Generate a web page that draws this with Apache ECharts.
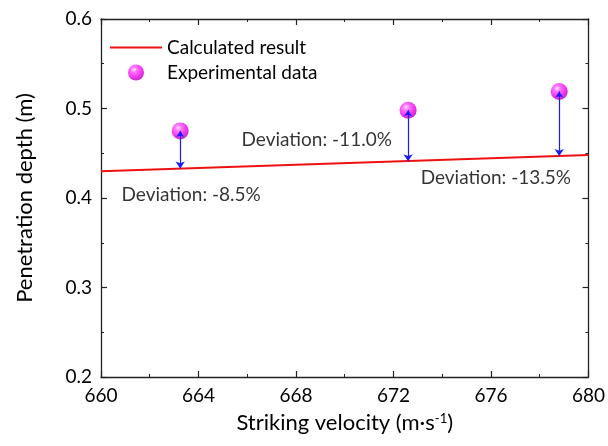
<!DOCTYPE html>
<html><head><meta charset="utf-8">
<script src="https://cdn.jsdelivr.net/npm/echarts@6/dist/echarts.min.js"></script>
<style>html,body{margin:0;padding:0;background:#fff}#c{width:608px;height:446px}</style>
</head><body><div id="c"></div>
<script>
// Calculated result line (x, y)
const calcX = [660, 680];
const calcY = [0.430, 0.448];
// Experimental data
const expX = [663.25, 672.6, 678.8];
const expY = [0.475, 0.498, 0.519];
// calculated value beneath each experimental point (arrow ends)
const calcAtExp = [0.433, 0.441, 0.447];
// deviation annotations
const devText = ['Deviation: -8.5%', 'Deviation: -11.0%', 'Deviation: -13.5%'];
const devX = [663.7, 668.85, 676.2];
const devY = [0.4034, 0.4648, 0.4223];
const xTicks = [660, 664, 668, 672, 676, 680];
const yTicks = [0.2, 0.3, 0.4, 0.5, 0.6];

const FONT = 'Lato';
const chart = echarts.init(document.getElementById('c'));
const axisCommon = {
  axisLine: {show: true, onZero: false, lineStyle: {color: '#222', width: 1.3}},
  axisTick: {show: true, inside: true, length: 6, lineStyle: {color: '#222', width: 1.2}},
  minorTick: {show: true, splitNumber: 2, length: 3, lineStyle: {color: '#222', width: 1}},
  splitLine: {show: false}
};
const ballColor = {
  type: 'radial', x: 0.38, y: 0.32, r: 0.7,
  colorStops: [{offset: 0, color: '#ffe6ff'}, {offset: 0.25, color: '#ff55ff'}, {offset: 0.7, color: '#ee00ee'}, {offset: 1, color: '#b000b0'}]
};
chart.setOption({
  animation: false,
  textStyle: {fontFamily: FONT},
  grid: {left: 101, right: 16, top: 19, bottom: 69},
  legend: {
    orient: 'vertical', left: 105, top: 33, itemWidth: 52, itemHeight: 16, itemGap: 6,
    textStyle: {fontFamily: FONT, fontSize: 19, color: '#000'},
    data: [
      {name: 'Calculated result', icon: 'path://M0,0h0.01v16h-0.01z M0,7h52v2h-52z', itemStyle: {color: '#ee1111'}},
      {name: 'Experimental data', icon: 'circle'}
    ]
  },
  xAxis: [
    Object.assign({type: 'value', min: 660, max: 680, interval: 4, position: 'bottom',
      name: '{a|Striking velocity (m·s}{s|-1}{a|)}', nameLocation: 'middle', nameGap: 35,
      nameTextStyle: {rich: {a: {fontFamily: FONT, fontSize: 22, color: '#000'}, s: {fontFamily: FONT, fontSize: 13, color: '#000', verticalAlign: 'top', padding: [0, 0, 9, 0]}}},
      axisLabel: {fontSize: 19, color: '#000', margin: 9, formatter: v => xTicks.includes(v) ? String(v) : ''}}, axisCommon),
    Object.assign({type: 'value', min: 660, max: 680, interval: 4, position: 'top', axisLabel: {show: false}}, axisCommon)
  ],
  yAxis: [
    Object.assign({type: 'value', min: 0.2, max: 0.6, interval: 0.1, position: 'left',
      name: 'Penetration depth (m)', nameLocation: 'middle', nameGap: 65,
      nameTextStyle: {fontFamily: FONT, fontSize: 22, color: '#000'},
      axisLabel: {fontSize: 19, color: '#000', margin: 9, formatter: v => v.toFixed(1)}}, axisCommon),
    Object.assign({type: 'value', min: 0.2, max: 0.6, interval: 0.1, position: 'right', axisLabel: {show: false}}, axisCommon)
  ],
  series: [
    {name: 'Calculated result', type: 'line', symbol: 'none', color: '#ee1111',
      lineStyle: {color: '#ee1111', width: 2}, data: calcX.map((x, i) => [x, calcY[i]]), z: 2},
    {name: 'Experimental data', type: 'scatter', symbol: 'circle', symbolSize: 17,
      itemStyle: {color: ballColor}, data: expX.map((x, i) => [x, expY[i]]), z: 3},
    {type: 'lines', coordinateSystem: 'cartesian2d', symbol: ['arrow', 'arrow'], symbolSize: [6, 7],
      lineStyle: {color: '#1a1aff', width: 1.2, opacity: 1}, z: 5,
      data: expX.map((x, i) => ({coords: [[x, expY[i]], [x, calcAtExp[i]]]}))},
    {type: 'scatter', symbolSize: 0, silent: true, z: 6,
      label: {show: true, position: 'inside', fontFamily: FONT, fontSize: 19, color: '#000',
        formatter: p => devText[p.dataIndex]},
      data: devX.map((x, i) => [x, devY[i]])}
  ]
});
</script></body></html>
